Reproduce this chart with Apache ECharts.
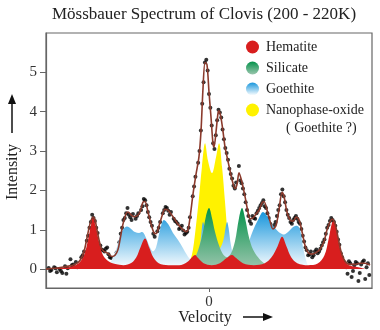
<!DOCTYPE html>
<html><head><meta charset="utf-8">
<script src="https://cdn.jsdelivr.net/npm/echarts@6/dist/echarts.min.js"></script>
<style>html,body{margin:0;padding:0;background:#fff}#c{width:380px;height:330px}</style>
</head><body><div id="c"></div>
<script>
// ---- values (velocity in mm/s, intensity in arbitrary units) ----
const yTicks = [0, 1, 2, 3, 4, 5];
const xTicks = [0];
const legendNames = ['Hematite', 'Silicate', 'Goethite', 'Nanophase-oxide'];

const dataV = [-11.8,-11.6,-11.4,-11.2,-11.0,-10.8,-10.6,-10.4,-10.2,-10.0,-9.8,-9.6,-9.4,-9.2,-9.0,-8.8,-8.6,-8.4,-8.2,-8.0,-7.8,-7.6,-7.4,-7.2,-7.0,-6.8,-6.6,-6.4,-6.2,-6.0,-5.8,-5.6,-5.4,-5.2,-5.0,-4.8,-4.6,-4.4,-4.2,-4.0,-3.8,-3.6,-3.4,-3.2,-3.0,-2.8,-2.6,-2.4,-2.2,-2.0,-1.8,-1.6,-1.4,-1.2,-1.0,-0.8,-0.6,-0.4,-0.2,0.0,0.2,0.4,0.6,0.8,1.0,1.2,1.4,1.6,1.8,2.0,2.2,2.4,2.6,2.8,3.0,3.2,3.4,3.6,3.8,4.0,4.2,4.4,4.6,4.8,5.0,5.2,5.4,5.6,5.8,6.0,6.2,6.4,6.6,6.8,7.0,7.2,7.4,7.6,7.8,8.0,8.2,8.4,8.6,8.8,9.0,9.2,9.4,9.6,9.8,10.0,10.2,10.4,10.6,10.8,11.0,11.2,11.4,11.6,11.8];
const dataY = [0.03,-0.02,0.05,-0.08,0.0,-0.1,0.07,0.02,0.25,0.12,0.18,0.08,0.3,0.45,0.72,1.05,1.38,1.22,0.92,0.6,0.48,0.52,0.38,0.28,0.24,0.42,0.68,1.05,1.3,1.55,1.32,1.4,1.28,1.42,1.5,1.78,1.62,1.32,1.1,0.82,0.96,1.2,1.42,1.58,1.48,1.45,1.28,1.2,1.02,1.1,0.88,0.95,1.32,1.85,2.35,2.7,3.52,4.75,5.32,4.45,3.65,3.05,3.78,3.98,3.55,3.08,2.78,2.42,2.12,2.2,2.62,2.18,1.9,1.5,1.22,1.35,1.28,1.48,1.62,1.75,1.55,1.3,1.0,1.12,1.35,1.62,2.02,1.7,1.38,1.2,1.25,1.35,1.2,1.02,0.7,0.48,0.38,0.3,0.45,0.4,0.52,0.68,0.9,1.12,1.3,1.2,0.95,0.62,0.3,0.12,-0.12,0.15,-0.05,0.18,-0.3,0.12,0.22,0.05,-0.15];
const dataV2 = [-11.7,-11.3,-10.9,-10.5,-10.1,-9.7,-9.3,-8.9,-8.7,-8.5,-8.3,-7.9,-7.7,-7.5,-7.3,-6.9,-6.5,-6.3,-6.1,-5.9,-5.7,-5.3,-4.9,-4.7,-4.5,-4.3,-4.1,-3.7,-3.3,-3.1,-2.9,-2.5,-2.3,-2.1,-1.9,-1.7,-1.5,-1.1,-0.7,-0.5,-0.3,-0.1,0.1,0.3,0.5,0.7,0.9,1.1,1.3,1.5,1.7,1.9,2.3,2.5,2.7,2.9,3.1,3.3,3.5,3.7,3.9,4.1,4.3,4.5,4.7,4.9,5.1,5.3,5.5,5.7,5.9,6.1,6.3,6.5,6.7,6.9,7.1,7.3,7.5,7.7,7.9,8.1,8.3,8.5,8.7,8.9,9.1,9.3,9.5,9.7,9.9,10.1,10.3,10.5,10.7,10.9,11.1,11.3,11.5,11.7];
const dataY2 = [-0.05,0.02,-0.05,-0.12,0.1,0.05,0.35,0.85,1.2,1.3,1.05,0.5,0.45,0.55,0.3,0.3,0.9,1.25,1.42,1.38,1.25,1.35,1.6,1.75,1.45,1.2,0.9,1.05,1.5,1.55,1.38,1.22,1.15,1.05,0.98,0.92,1.05,2.1,3.0,4.2,5.25,5.05,4.1,3.2,3.4,4.05,3.85,3.3,2.95,2.55,2.3,2.05,2.25,2.05,1.7,1.35,1.15,1.3,1.42,1.55,1.68,1.6,1.42,1.15,0.98,1.2,1.5,1.9,1.85,1.5,1.3,1.15,1.3,1.28,1.15,0.85,0.55,0.35,0.45,0.35,0.5,0.45,0.6,0.75,1.05,1.22,1.25,1.1,0.75,0.4,0.2,0.05,0.2,-0.2,0.1,0.15,-0.1,0.18,-0.25,0.15];

const fitV = [-12.0,-11.34,-10.60,-9.87,-9.50,-9.20,-8.98,-8.76,-8.54,-8.39,-8.25,-8.10,-7.95,-7.73,-7.44,-7.14,-6.92,-6.70,-6.55,-6.33,-6.11,-5.96,-5.74,-5.52,-5.30,-5.08,-4.86,-4.71,-4.49,-4.27,-4.05,-3.90,-3.68,-3.46,-3.24,-3.02,-2.80,-2.58,-2.36,-2.14,-1.91,-1.69,-1.55,-1.40,-1.18,-0.96,-0.74,-0.59,-0.44,-0.29,-0.15,0.0,0.15,0.29,0.37,0.52,0.66,0.74,0.88,1.03,1.18,1.33,1.55,1.69,1.91,2.06,2.21,2.43,2.65,2.87,3.02,3.24,3.46,3.68,3.90,4.05,4.27,4.49,4.71,4.93,5.15,5.38,5.52,5.74,5.96,6.19,6.41,6.63,6.85,7.07,7.29,7.59,7.88,8.17,8.47,8.69,8.91,9.06,9.28,9.50,9.72,10.02,10.38,10.75,11.12,11.49,11.86];
const fitY = [0.0,0.02,0.06,0.12,0.22,0.45,0.8,1.15,1.32,1.25,1.0,0.75,0.55,0.45,0.4,0.32,0.35,0.5,0.75,1.15,1.4,1.45,1.38,1.33,1.35,1.45,1.7,1.72,1.45,1.15,0.92,0.9,1.1,1.35,1.52,1.5,1.4,1.3,1.18,1.08,1.0,0.95,1.0,1.3,1.9,2.4,2.85,3.5,4.6,5.25,5.2,4.5,3.85,3.2,3.1,3.5,3.95,4.02,3.85,3.5,3.1,2.85,2.5,2.28,2.05,2.15,2.45,2.2,1.85,1.45,1.28,1.3,1.4,1.5,1.68,1.72,1.5,1.22,1.02,1.1,1.5,1.95,1.85,1.45,1.25,1.22,1.32,1.25,0.95,0.6,0.42,0.38,0.42,0.5,0.7,1.0,1.2,1.27,1.15,0.8,0.45,0.2,0.12,0.12,0.15,0.15,0.1];

const hematiteV = [-11.6,-11.3,-10.3,-9.6,-9.2,-8.9,-8.7,-8.54,-8.35,-8.1,-7.8,-7.4,-6.9,-6.3,-5.7,-5.35,-5.05,-4.71,-4.4,-4.1,-3.7,-3.0,-2.2,-1.6,-1.25,-1.03,-0.8,-0.4,0.2,0.8,1.3,1.69,2.0,2.5,3.3,4.1,4.6,5.05,5.38,5.7,6.05,6.5,7.3,8.0,8.5,8.8,9.0,9.13,9.35,9.6,9.9,10.3,11.0,11.6];
const hematiteY = [0.0,0.02,0.05,0.15,0.35,0.75,1.1,1.3,1.1,0.7,0.35,0.2,0.13,0.1,0.16,0.3,0.55,0.78,0.55,0.3,0.15,0.1,0.1,0.18,0.3,0.36,0.28,0.15,0.1,0.15,0.28,0.36,0.28,0.15,0.1,0.15,0.3,0.58,0.82,0.58,0.3,0.15,0.1,0.14,0.35,0.75,1.1,1.22,1.05,0.6,0.25,0.1,0.05,0.0];

const goethiteV = [-7.6,-7.44,-7.14,-6.77,-6.55,-6.33,-6.04,-5.74,-5.45,-5.15,-4.93,-4.64,-4.34,-4.12,-3.90,-3.61,-3.31,-3.02,-2.65,-2.28,-1.91,-1.62,-1.33,-1.03,-0.81,-0.66,-0.52,-0.44,-0.33,-0.22,-0.05,0.22,0.66,1.03,1.22,1.33,1.44,1.62,1.84,2.28,2.65,2.87,3.09,3.39,3.68,3.98,4.27,4.57,4.86,5.23,5.52,5.82,6.19,6.48,6.70,6.92,7.14,7.36,7.59];
const goethiteY = [0.0,0.03,0.25,0.56,0.85,1.0,1.08,1.02,0.94,0.92,0.94,0.8,0.55,0.45,0.55,0.99,1.25,1.15,0.92,0.74,0.53,0.36,0.25,0.25,0.35,0.6,1.05,1.2,1.05,0.6,0.42,0.4,0.45,0.7,1.05,1.2,1.05,0.6,0.35,0.3,0.4,0.6,0.85,1.1,1.3,1.45,1.35,1.15,1.04,0.92,0.88,0.94,1.07,1.1,1.0,0.56,0.23,0.05,0.0];

const silicateV = [-1.7,-1.40,-1.03,-0.74,-0.44,-0.22,0.0,0.22,0.44,0.74,1.03,1.33,1.62,1.91,2.21,2.43,2.65,2.95,3.24,3.61,4.05,4.64,5.0];
const silicateY = [0.0,0.15,0.3,0.55,0.95,1.35,1.55,1.3,0.95,0.6,0.38,0.3,0.4,0.7,1.3,1.55,1.3,0.8,0.5,0.3,0.15,0.05,0.0];

const nanoV = [-1.69,-1.40,-1.18,-0.96,-0.74,-0.52,-0.29,-0.07,0.22,0.52,0.74,0.96,1.18,1.40,1.62,1.91];
const nanoY = [0.0,0.2,0.5,1.1,1.8,2.6,3.2,2.75,2.44,2.85,3.2,2.6,1.7,0.8,0.35,0.0];

// ---- helpers ----
const zip = (a, b) => a.map((v, i) => [v, b[i]]);
const SERIF = '"Liberation Serif", "DejaVu Serif", serif';

const red = '#d81e1e';
const yellow = '#fff200';
const blueGrad = new echarts.graphic.LinearGradient(0, 0, 0, 1, [
  {offset: 0, color: '#1896dc'}, {offset: 1, color: '#ffffff'}]);
const greenGrad = new echarts.graphic.LinearGradient(0, 0, 0, 1, [
  {offset: 0, color: '#03924a'}, {offset: 1, color: '#9cc6ae'}]);

function area(name, v, y, color, fill) {
  return {
    name, type: 'line', data: zip(v, y), smooth: 0.35, showSymbol: false,
    lineStyle: {width: 0}, itemStyle: {color: color},
    areaStyle: {color: fill, opacity: 1}, silent: true
  };
}

const chart = echarts.init(document.getElementById('c'), null, {renderer: 'canvas'});
chart.setOption({
  animation: false,
  backgroundColor: '#fff',
  grid: {left: 46, right: 8, top: 33, bottom: 42, show: true, borderColor: '#666', borderWidth: 1.2, backgroundColor: 'transparent'},
  xAxis: {
    type: 'value', min: -12, max: 12,
    axisLine: {show: true, onZero: false, lineStyle: {color: '#666', width: 1.2}},
    axisTick: {show: true, length: 4, lineStyle: {color: '#666'}, customValues: xTicks},
    axisLabel: {customValues: xTicks, margin: 7, color: '#333', fontFamily: SERIF, fontSize: 15},
    splitLine: {show: false}
  },
  yAxis: {
    type: 'value', min: -0.48, max: 6.0,
    axisLine: {show: true, onZero: false, lineStyle: {color: '#666', width: 1.2}},
    axisTick: {show: true, length: 6, lineStyle: {color: '#666'}, customValues: yTicks},
    axisLabel: {customValues: yTicks, margin: 9, color: '#333', fontFamily: SERIF, fontSize: 15},
    splitLine: {show: false}
  },
  legend: {
    orient: 'vertical', left: 241, top: 35, itemWidth: 13, itemHeight: 13, itemGap: 7,
    icon: 'circle', data: legendNames, padding: 5,
    textStyle: {fontFamily: SERIF, fontSize: 14, color: '#222', padding: [0, 0, 0, 2]},
    selectedMode: false
  },
  series: [
    area('Nanophase-oxide', nanoV, nanoY, yellow, yellow),
    area('Goethite', goethiteV, goethiteY, blueGrad, blueGrad),
    area('Silicate', silicateV, silicateY, greenGrad, greenGrad),
    area('Hematite', hematiteV, hematiteY, red, red),
    {name: 'fit', type: 'line', data: zip(fitV, fitY), smooth: 0.3, showSymbol: false,
     lineStyle: {color: '#8b3a2c', width: 1.6}, silent: true},
    {name: 'data', type: 'scatter', data: zip(dataV, dataY).concat(zip(dataV2, dataY2)), symbolSize: 4,
     itemStyle: {color: '#000'}, silent: true}
  ],
  graphic: [
    {type: 'text', x: 204, y: 15, style: {text: 'Mössbauer Spectrum of Clovis (200 - 220K)', font: '17px ' + SERIF, fill: '#222', align: 'center', verticalAlign: 'middle'}},
    {type: 'text', x: 286, y: 128, style: {text: '( Goethite ?)', font: '14px ' + SERIF, fill: '#222', align: 'left', verticalAlign: 'middle'}},
    {type: 'text', x: 13, y: 172, rotation: Math.PI / 2, style: {text: 'Intensity', font: '16px ' + SERIF, fill: '#222', align: 'center', verticalAlign: 'middle'}},
    {type: 'line', shape: {x1: 12, y1: 133, x2: 12, y2: 102}, style: {stroke: '#111', lineWidth: 1.5}},
    {type: 'polygon', shape: {points: [[12, 94], [8, 104], [16, 104]]}, style: {fill: '#111'}},
    {type: 'text', x: 205, y: 318, style: {text: 'Velocity', font: '16px ' + SERIF, fill: '#222', align: 'center', verticalAlign: 'middle'}},
    {type: 'line', shape: {x1: 243, y1: 317, x2: 265, y2: 317}, style: {stroke: '#111', lineWidth: 1.5}},
    {type: 'polygon', shape: {points: [[273, 317], [263, 313], [263, 321]]}, style: {fill: '#111'}}
  ]
});
</script></body></html>
